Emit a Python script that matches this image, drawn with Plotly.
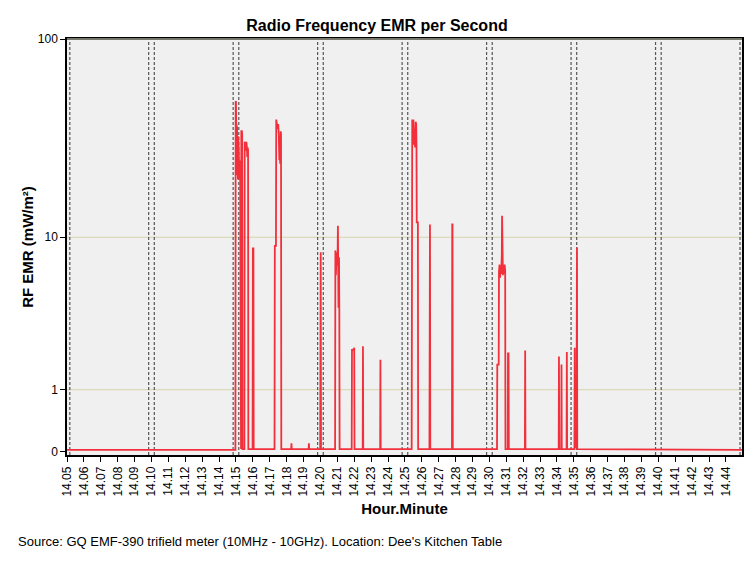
import math
import plotly.graph_objects as go

# time in seconds after 14:00:00, RF EMR in mW/m^2 (per-second samples, baseline ~0.02)
seconds = [
    300, 898, 899, 900, 901, 902, 903, 904, 905, 906, 907, 908, 909, 910, 911, 912, 913, 914, 915, 916,
    918, 919, 921, 922, 923, 930, 931, 933, 935, 937, 939, 940, 942, 943, 944,
    959, 960, 962, 963,
    1037, 1038, 1042, 1043, 1044, 1046, 1048, 1050, 1052, 1054, 1056, 1057, 1059, 1060, 1061,
    1096, 1097, 1098, 1158, 1159, 1160,
    1199, 1200, 1201, 1202,
    1252, 1253, 1255, 1257, 1259, 1261, 1262, 1263, 1264, 1266, 1267, 1268,
    1311, 1312, 1314, 1316, 1318, 1320, 1321,
    1350, 1351, 1352, 1412, 1413, 1414,
    1524, 1525, 1526, 1528, 1530, 1532, 1534, 1536, 1538, 1540, 1541, 1542, 1546, 1547,
    1587, 1588, 1589, 1590, 1667, 1668, 1669, 1670,
    1827, 1828, 1833, 1834, 1836, 1838, 1840, 1842, 1844, 1845, 1846, 1848, 1850, 1852, 1854, 1856, 1857,
    1865, 1866, 1868, 1869, 1926, 1927, 1928,
    2046, 2047, 2048, 2055, 2056, 2057, 2074, 2075, 2076,
    2102, 2103, 2104, 2109, 2110, 2111, 2112, 2697,
]
emr_values = [
    0.02, 0.02, 49, 49, 36, 38, 24, 37, 21, 30, 20, 33, 22, 28, 20, 25, 21, 24, 20, 0.03,
    0.03, 35, 35, 34, 0.03, 0.03, 31, 30, 28, 31, 29, 26, 29, 28, 0.03,
    0.03, 8.7, 8.7, 0.03,
    0.03, 9, 9, 40, 39, 37, 36, 38, 34, 25, 33, 24, 35, 34, 0.03,
    0.03, 0.1, 0.03, 0.03, 0.1, 0.03,
    0.03, 8.3, 8.3, 0.03,
    0.03, 8.5, 6.2, 8.3, 7.0, 8.0, 11.5, 7.5, 4.0, 7.8, 4.0, 0.03,
    0.03, 2.15, 2.1, 2.15, 2.1, 2.2, 0.03,
    0.03, 2.25, 0.03, 0.03, 1.8, 0.03,
    0.03, 38, 40, 33, 40, 30, 36, 29, 39, 38, 30, 12, 12, 0.03,
    0.03, 11.7, 11.7, 0.03, 0.03, 11.7, 11.7, 0.03,
    0.03, 1.65, 1.65, 6.5, 7.1, 6.0, 7.0, 6.3, 8.0, 13, 7.5, 6.2, 7.0, 6.3, 7.1, 6.6, 0.03,
    0.03, 2.0, 2.0, 0.03, 0.03, 2.1, 0.03,
    0.03, 1.9, 0.03, 0.03, 1.65, 0.03, 0.03, 2.05, 0.03,
    0.03, 2.2, 0.05, 0.05, 8.8, 8.8, 0.03, 0.02,
]

y_ticks = [0, 1, 10, 100]
y_tick_labels = ["0", "1", "10", "100"]
grid_values = [1, 10]
minute_ticks = list(range(5, 45))
minute_labels = ["14.%02d" % m for m in minute_ticks]
marker_minutes = [5, 10, 15, 20, 25, 30, 35, 40, 45]


def tr(v):
    return math.log10(v + 1)


x_range = [300, 2697]
fig = go.Figure()
fig.add_trace(go.Scatter(
    x=seconds, y=[tr(v) for v in emr_values], mode="lines",
    line=dict(color="#f2303c", width=1.8), hoverinfo="skip", showlegend=False,
))

shapes = []
for g in grid_values:
    shapes.append(dict(type="line", xref="paper", yref="y", x0=0, x1=1, y0=tr(g), y1=tr(g),
                       line=dict(color="#d8d4ae", width=1), layer="below"))
for m in marker_minutes:
    for off in (-10, 10):
        xv = m * 60 + off
        if x_range[0] < xv < x_range[1]:
            shapes.append(dict(type="line", xref="x", yref="paper", x0=xv, x1=xv, y0=0, y1=1,
                               line=dict(color="#555555", width=1.2, dash="3px,2px"), layer="below"))
# top border
shapes.append(dict(type="line", xref="paper", yref="paper", x0=0, x1=1, y0=1, y1=1,
                   line=dict(color="#77776c", width=2)))

fig.update_layout(
    width=754, height=564,
    margin=dict(l=67, r=10, t=39, b=109),
    paper_bgcolor="white", plot_bgcolor="#f0f0f0",
    font=dict(family="Liberation Sans, Arial, sans-serif", size=12, color="black"),
    title=dict(text="<b>Radio Frequency EMR per Second</b>", x=0.5, xanchor="center",
               y=1 - 25 / 564, yanchor="middle", font=dict(size=16)),
    shapes=shapes,
    annotations=[dict(text="Source: GQ EMF-390 trifield meter (10MHz - 10GHz). Location: Dee's Kitchen Table",
                      xref="paper", yref="paper", x=-51 / 677, y=-86 / 416, xanchor="left", yanchor="middle",
                      showarrow=False, font=dict(size=13))],
)
fig.update_xaxes(
    range=x_range, tickmode="array", tickvals=[m * 60 for m in minute_ticks], ticktext=minute_labels,
    tickangle=-90, ticks="outside", ticklen=5, tickcolor="black", showgrid=False, zeroline=False,
    showline=True, linecolor="black", linewidth=1.5, mirror=True,
    title=dict(text="<b>Hour.Minute</b>", font=dict(size=15), standoff=8),
)
fig.update_yaxes(
    range=[-0.016, tr(100)], tickmode="array", tickvals=[tr(v) for v in y_ticks], ticktext=y_tick_labels,
    ticks="outside", ticklen=5, tickcolor="black", showgrid=False, zeroline=False,
    showline=True, linecolor="black", linewidth=1.5, mirror=True,
    title=dict(text="<b>RF EMR (mW/m²)</b>", font=dict(size=15), standoff=1),
)
fig.write_html("out.html", config={"displayModeBar": False},
               post_script="document.body.style.margin='0';")
